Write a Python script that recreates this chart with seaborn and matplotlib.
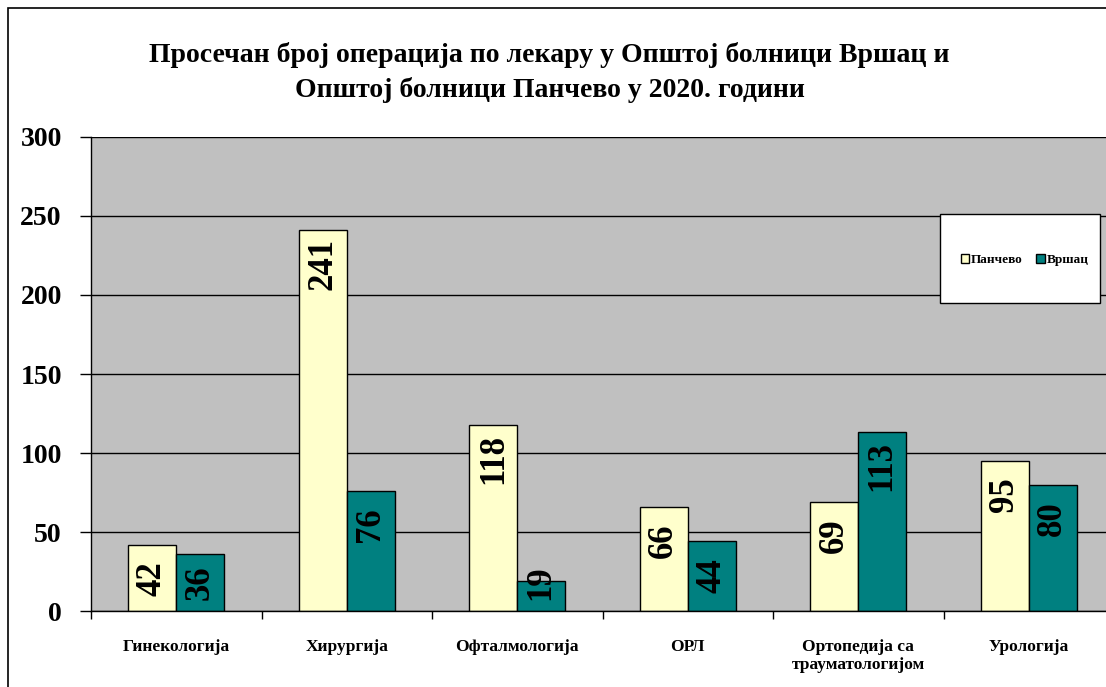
import pandas as pd
import seaborn as sns
import matplotlib.pyplot as plt
from matplotlib.patches import Rectangle

# values
categories = ['Гинекологија', 'Хирургија', 'Офталмологија', 'ОРЛ',
              'Ортопедија са\nтрауматологијом', 'Урологија']
pancevo = [42, 241, 118, 66, 69, 95]
vrsac = [36, 76, 19, 44, 113, 80]
series = ['Панчево', 'Вршац']
yticks = [0, 50, 100, 150, 200, 250, 300]

df = pd.DataFrame({
    'odeljenje': categories * 2,
    'bolnica': [series[0]] * len(categories) + [series[1]] * len(categories),
    'broj': pancevo + vrsac,
})

sns.set_style('white')
plt.rcParams['font.family'] = ['Liberation Serif', 'DejaVu Serif']
plt.rcParams['font.weight'] = 'bold'
plt.rcParams['text.color'] = 'black'
plt.rcParams['xtick.color'] = 'black'
plt.rcParams['ytick.color'] = 'black'

fig = plt.figure(figsize=(11.06, 6.87), dpi=100)
ax = fig.add_axes([91 / 1106, 0.1106, 1023 / 1106, 0.690])
ax.set_facecolor('#C0C0C0')

sns.barplot(data=df, x='odeljenje', y='broj', hue='bolnica', order=categories,
            hue_order=series, palette=['#FFFFCC', '#008080'], width=0.5627,
            edgecolor='black', linewidth=1, saturation=1, ax=ax, zorder=3)

# data labels, rotated, just inside the top of each bar
# (kept clear of the base for short bars, like Excel does)
px_per_unit = 474 / 300
for cont in ax.containers:
    for p in cont:
        h = p.get_height()
        yc = max(h - 34 / px_per_unit, 28 / px_per_unit)
        ax.text(p.get_x() + p.get_width() / 2, yc, f'{h:.0f}',
                rotation=90, ha='center', va='center',
                fontsize=25, fontweight='bold', color='black', zorder=5)

ax.set_xlim(-0.5, len(categories) - 0.5)
ax.set_ylim(0, 300)
ax.set_yticks(yticks)
ax.set_yticklabels([str(t) for t in yticks], fontsize=20, fontweight='bold')
ax.yaxis.grid(True, color='black', linewidth=1)
ax.set_axisbelow(True)
ax.tick_params(axis='y', length=8, width=1, direction='out', pad=13, left=True)

ax.set_xticks(range(len(categories)))
ax.set_xticklabels(categories, fontsize=12.5, fontweight='bold')
ax.set_xticks([i - 0.5 for i in range(len(categories) + 1)], minor=True)
ax.tick_params(axis='x', which='major', length=0, pad=20)
ax.tick_params(axis='x', which='minor', length=6, width=1, direction='out', bottom=True)

ax.set_xlabel('')
ax.set_ylabel('')
for s in ['top', 'right']:
    ax.spines[s].set_visible(False)
for s in ['left', 'bottom']:
    ax.spines[s].set_color('black')
    ax.spines[s].set_linewidth(1)
    ax.spines[s].set_zorder(6)

# legend in a white box
ax.add_patch(Rectangle((0.830, 0.650), 0.1564, 0.188, transform=ax.transAxes,
                       facecolor='white', edgecolor='black', linewidth=1, zorder=7))
handles, labels = ax.get_legend_handles_labels()
leg = ax.legend(handles, labels, loc='center', bbox_to_anchor=(0.9125, 0.7405),
                ncol=2, frameon=False, handlelength=0.65,
                handleheight=0.65, handletextpad=0.15, columnspacing=1.0,
                prop={'family': 'Liberation Serif', 'weight': 'bold', 'size': 9.5})
leg.set_zorder(8)

fig.text(0.497, 0.8945,
         'Просечан број операција по лекару у Општој болници Вршац и\n'
         'Општој болници Панчево у 2020. години',
         ha='center', va='center', fontsize=20, fontweight='bold',
         linespacing=1.45)

fig.patches.append(Rectangle((8 / 1106, -0.1), 1.2, (687 - 8) / 687 + 0.1,
                             transform=fig.transFigure, fill=False,
                             edgecolor='black', linewidth=1.2))

fig.savefig('out.png', dpi=100)
